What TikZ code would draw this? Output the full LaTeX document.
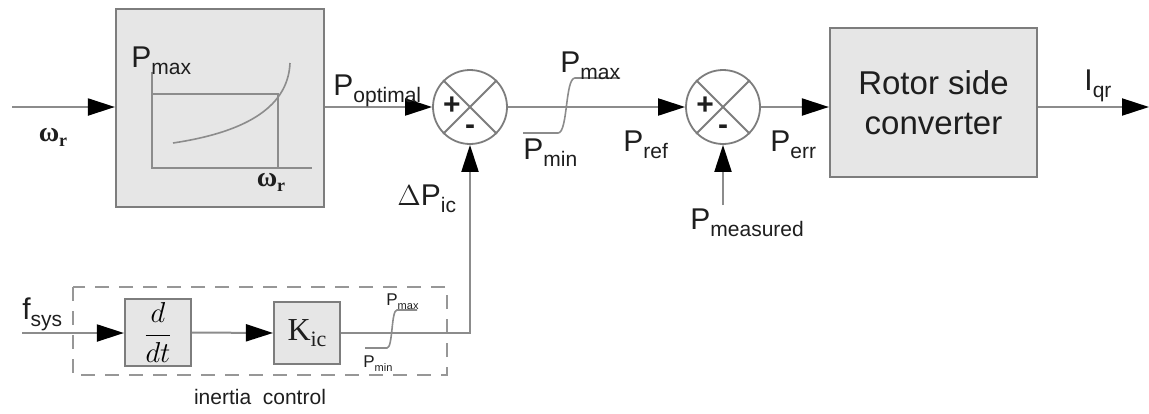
\documentclass[tikz,border=0pt]{standalone}
\usepackage{fontspec}
\setmainfont{Liberation Sans}
\newfontfamily\seriffont{Liberation Serif}
\usetikzlibrary{arrows.meta}
\definecolor{linegray}{RGB}{140,140,140}
\definecolor{boxfill}{RGB}{230,230,230}
\definecolor{boxline}{RGB}{125,125,125}
\definecolor{txt}{RGB}{30,30,30}
\newcommand{\Sb}[2][10.5]{\raisebox{-0.45ex}{\fontsize{#1}{#1}\selectfont #2}}
\newcommand{\omegaR}{{\seriffont\bfseries\fontsize{14}{14}\selectfont ω\raisebox{-0.4ex}{\fontsize{9}{9}\selectfont r}}}
\begin{document}
\begin{tikzpicture}[x=0.5pt,y=-0.5pt,
  line/.style={draw=linegray, line width=1pt},
  arr/.style={line, -{Triangle[length=13.5pt,width=8.5pt,fill=black,color=black]}},
  blk/.style={draw=boxline, fill=boxfill, line width=1.1pt, inner sep=0pt},
  sumc/.style={circle, draw=boxline, line width=0.9pt, fill=white, minimum size=37pt, inner sep=0pt},
  lbl/.style={text=txt, font=\fontsize{15}{17}\selectfont, inner sep=0pt},
  sgn/.style={text=txt, font=\fontsize{15}{15}\selectfont\bfseries, inner sep=0pt},
  small/.style={text=txt, font=\fontsize{8.5}{9}\selectfont, inner sep=0pt},
  thin/.style={draw=linegray, line width=0.8pt}
]
\useasboundingbox (0,0) rectangle (1149,413);

% ---- top row ----
\node[blk, minimum width=104pt, minimum height=99pt] (lut) at (220,108) {};
\draw[thin] (152,72) -- (152,168) -- (312,168);
\draw[thin] (152,94) -- (278,94) -- (278,168);
\draw[thin] (173,143) .. controls (240,133) and (288,110) .. (290,63);
\node[lbl, anchor=base west] (lpmax) at (131,67) {P\Sb{max}};
\node[text=txt, inner sep=0pt] (lwr2) at (271,182) {\omegaR};

\coordinate (win) at (12,107);
\draw[arr] (win) -- (win -| lut.west);
\node[text=txt, inner sep=0pt] (lwr) at (53,137) {\omegaR};

\node[sumc] (s1) at (470,107) {};
\draw[line, draw=boxline, line width=0.9pt] (s1.45) -- (s1.225) (s1.135) -- (s1.315);
\node[sgn] (s1p) at (452,106) {+};
\node[sgn] (s1m) at (470,130) {-};
\draw[arr] (lut.east |- s1.west) -- (s1.west);
\node[lbl, anchor=base west] (lopt) at (333,95) {P\Sb{optimal}};

\node[sumc] (s2) at (723,107) {};
\draw[line, draw=boxline, line width=0.9pt] (s2.45) -- (s2.225) (s2.135) -- (s2.315);
\node[sgn] (s2p) at (705,106) {+};
\node[sgn] (s2m) at (723,130) {-};
\draw[arr] (s1.east) -- (s2.west);
\node[lbl, anchor=base west] (lref) at (623,151) {P\Sb{ref}};

% saturation (top)
\draw[thin] (523,133) -- (558,133) .. controls (568,133) and (565,78) .. (575,78) -- (620,78);
\node[lbl, anchor=base west] (lsmax) at (560,72) {P\Sb{max}};
\node[lbl, anchor=base west] (lsmin) at (523,159) {P\Sb{min}};

\node[blk, minimum width=103.5pt, minimum height=74.5pt, align=center, text=txt,
      font=\fontsize{16.5}{20}\selectfont] (rsc) at (933.5,102.5) {Rotor side\\converter};
\draw[arr] (s2.east) -- (s2.east -| rsc.west);
\node[lbl, anchor=base west] (lerr) at (770,151) {P\Sb{err}};

\coordinate (out) at (1149,107);
\draw[arr] (rsc.east |- out) -- (out);
\node[lbl, anchor=base west] (liqr) at (1084,90) {I\Sb{qr}};

\coordinate (pm) at (723,205);
\draw[arr] (pm) -- (s2.south);
\node[lbl, anchor=base west] (lpm) at (690,229) {P\Sb{measured}};

% ---- inertia control ----
\draw[line, dashed, dash pattern=on 7pt off 5pt, draw=linegray!90] (73,287) rectangle (447,375);
\node[blk, minimum width=33pt, minimum height=33.5pt] (ddt) at (158,332.5) {\fontsize{15}{15}\selectfont$\displaystyle\frac{d}{dt}$};
\node[blk, minimum width=33pt, minimum height=31pt, text=txt] (kic) at (307,333) {\fontsize{16}{16}\selectfont\seriffont K\raisebox{-0.4ex}{\fontsize{11}{11}\selectfont ic}};

\coordinate (fin) at (22,333);
\draw[arr] (fin) -- (fin -| ddt.west);
\node[lbl, anchor=base west] (lf) at (22,319) {f\Sb{sys}};
\draw[arr] (ddt.east) -- (kic.west);
\draw[arr] (kic.east) -- (s1.south |- kic.east) -- (s1.south);
\node[lbl, anchor=base west] (ldp) at (397,205) {$\Delta$P\Sb{ic}};

% saturation (bottom)
\draw[thin] (365,348) -- (387,348) .. controls (393,348) and (391,310) .. (397,310) -- (417,310);
\node[small, anchor=base west] (lbmax) at (386,305) {P\Sb[5.5]{max}};
\node[small, anchor=base west] (lbmin) at (363,367) {P\Sb[5.5]{min}};

\node[text=txt, font=\fontsize{10.5}{12}\selectfont, inner sep=0pt] (lic) at (260,397) {inertia\ \ control};
\end{tikzpicture}
\end{document}
